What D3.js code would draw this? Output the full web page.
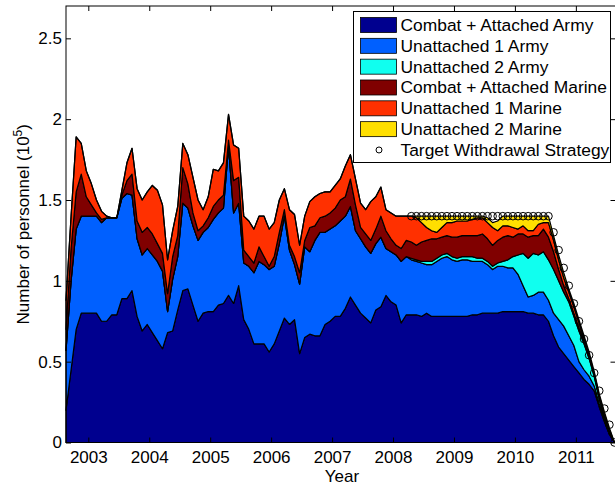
<!DOCTYPE html>
<html><head><meta charset="utf-8">
<script src="https://cdn.jsdelivr.net/npm/d3@7/dist/d3.min.js"></script>
<style>
body{margin:0;background:#fff}
svg{display:block}
text{font-family:"Liberation Sans",Arial,Helvetica,sans-serif;fill:#000}
</style>
</head><body>
<svg id="chart" width="615" height="486"></svg>
<script>
// ---- data (units of 10^5 personnel), monthly points ----
const seriesNames = ["Combat + Attached Army","Unattached 1 Army","Unattached 2 Army",
  "Combat + Attached Marine","Unattached 1 Marine","Unattached 2 Marine"];
const seriesColors = ["#00008F","#0060FF","#10FFEF","#800000","#FF3000","#FFDF00"];
const targetName = "Target Withdrawal Strategy";
const startYear = 2002.634;   // time of first monthly sample
const monthsCount = 109;

const combatArmy = [
 .20,.45,.70,.80,.80,.80,.80,.75,.75,.79,
 .79,.89,.89,.94,.78,.69,.73,.68,.63,.58,
 .68,.69,.82,.94,.95,.85,.75,.80,.81,.81,
 .85,.86,.91,.86,.97,.76,.70,.61,.61,.61,
 .56,.61,.69,.77,.73,.76,.55,.65,.67,.66,
 .66,.73,.75,.78,.78,.83,.90,.85,.80,.77,
 .74,.82,.84,.91,.87,.85,.74,.79,.79,.79,
 .78,.80,.78,.78,.78,.78,.78,.78,.78,.78,
 .79,.79,.80,.80,.80,.80,.81,.81,.81,.81,
 .81,.80,.80,.79,.79,.75,.66,.59,.55,.51,
 .47,.43,.39,.36,.32,.22,.13,.05,0];
const unattached1Army = [
 .37,.55,.62,.60,.60,.60,.60,.61,.64,.60,
 .60,.62,.65,.59,.48,.47,.47,.48,.49,.48,
 .13,.32,.33,.54,.50,.49,.50,.50,.52,.57,
 .57,.59,.92,.56,.51,.35,.39,.44,.51,.49,
 .51,.48,.54,.63,.46,.34,.43,.56,.51,.59,
 .64,.57,.57,.56,.59,.57,.56,.46,.46,.44,
 .43,.41,.43,.29,.31,.31,.38,.36,.34,.33,
 .33,.30,.32,.34,.36,.37,.35,.34,.35,.35,
 .33,.33,.32,.30,.27,.29,.28,.27,.27,.23,
 .16,.10,.11,.14,.14,.13,.14,.17,.17,.15,
 .13,.07,.06,.05,.03,.02,.01,0,0];
const unattached2Army = [
 0,0,0,0,0,0,0,0,0,0,
 0,0,0,0,0,0,0,0,0,0,
 0,0,0,0,0,0,0,0,0,0,
 0,0,0,0,0,0,0,0,0,0,
 0,0,0,0,0,0,0,0,0,0,
 0,0,0,0,0,0,0,0,0,0,
 0,0,0,0,0,0,0,0,.01,.01,
 .01,.02,.02,.02,.02,.02,.02,.02,.02,.02,
 .03,.02,.02,.02,.02,.02,.03,.05,.07,.12,
 .20,.24,.26,.23,.25,.25,.27,.24,.21,.21,
 .18,.19,.16,.11,.06,.03,.02,.01,0];
const combatMarine = [
 .13,.20,.23,.26,.12,.07,.02,.02,0,0,
 0,.02,.08,.13,.11,.14,.13,.13,.11,.11,
 .11,.14,.13,.22,.15,.08,.06,.04,.06,.08,
 .08,.08,.04,.20,.16,.08,.06,.06,.09,.05,
 .02,.06,.07,.04,.03,.05,.07,.04,.15,.09,
 .09,.10,.10,.11,.13,.12,.17,.16,.07,.08,
 .08,.09,.13,.11,.08,.06,.08,.10,.10,.09,
 .12,.13,.14,.12,.11,.11,.12,.13,.13,.13,
 .13,.14,.15,.14,.13,.14,.15,.15,.12,.13,
 .12,.13,.11,.12,.14,.14,.11,.07,.04,.02,
 .02,.02,.01,.01,.01,.01,.01,.01,0];
const unattached1Marine = [
 .18,.20,.34,.19,.16,.13,.08,.05,.01,0,
 0,.03,.11,.16,.20,.20,.22,.30,.33,.30,
 .21,.16,.18,.15,.18,.22,.19,.10,.13,.23,
 .18,.20,.16,.22,.18,.21,.22,.21,.19,.25,
 .23,.21,.20,.13,.22,.26,.17,.15,.16,.18,
 .15,.15,.13,.14,.13,.19,.15,.16,.15,.15,
 .24,.20,.18,.13,.16,.18,.20,.15,.16,.17,
 .12,.08,.05,.04,.06,.08,.09,.10,.09,.09,
 .10,.11,.10,.10,.11,.06,.07,.06,.06,.03,
 .05,.04,.03,.07,.04,.09,.07,.06,.05,.04,
 .04,.03,.02,.01,.01,.01,.01,.01,0];
const unattached2Marine = [
 0,0,0,0,0,0,0,0,0,0,
 0,0,0,0,0,0,0,0,0,0,
 0,0,0,0,0,0,0,0,0,0,
 0,0,0,0,0,0,0,0,0,0,
 0,0,0,0,0,0,0,0,0,0,
 0,0,0,0,0,0,0,0,0,0,
 0,0,0,0,0,0,0,0,0,.01,
 .04,.07,.09,.10,.07,.04,.04,.03,.03,.03,
 .02,.01,.01,.03,.03,.06,.06,.06,.07,.08,
 .06,.09,.09,.05,.04,.04,.03,.03,.03,.02,
 .02,.02,.02,.02,.01,.01,.01,.01,0];
const targetStart = 68;  // first month index of the target strategy markers
const targetValues = [
 1.4,1.4,1.4,1.4,1.4,1.4,1.4,1.4,1.4,1.4,
 1.4,1.4,1.4,1.4,1.4,1.4,1.4,1.4,1.4,1.4,
 1.4,1.4,1.4,1.4,1.4,1.4,1.4,1.4,
 1.30,1.19,1.08,0.97,0.86,0.75,0.64,0.54,0.43,0.32,0.21,0.11,0.00];
const yTickValues = [0,0.5,1,1.5,2,2.5];
const yearTicks = [2003,2004,2005,2006,2007,2008,2009,2010,2011];

// ---- layout ----
const svg = d3.select("#chart");
const L = 66, T = 6, R = 615.5, B = 442.5;
const x = d3.scaleLinear().domain([startYear, startYear + (monthsCount-1)/12]).range([L, 614.5]);
const y = d3.scaleLinear().domain([0, 2.7]).range([B, T]);

const seriesArrays = [combatArmy, unattached1Army, unattached2Army, combatMarine, unattached1Marine, unattached2Marine];
const keys = seriesNames;
const rows = d3.range(monthsCount).map(i => {
  const r = {t: startYear + i/12};
  keys.forEach((k, j) => r[k] = seriesArrays[j][i]);
  return r;
});
const stacked = d3.stack().keys(keys)(rows);

const area = d3.area()
  .x(d => x(d.data.t))
  .y0(d => y(d[0]))
  .y1(d => y(d[1]));

const plot = svg.append("g");
plot.selectAll("path.layer").data(stacked).join("path")
  .attr("class","layer")
  .attr("d", area)
  .attr("fill", (d,i) => seriesColors[i])
  .attr("stroke", "#000")
  .attr("stroke-width", 1.2)
  .attr("stroke-linejoin","round");

// target markers
const targetPts = targetValues.map((v,k) => ({t: startYear + (targetStart+k)/12, v}));
plot.selectAll("circle.tgt").data(targetPts).join("circle")
  .attr("class","tgt")
  .attr("cx", d => x(d.t)).attr("cy", d => y(d.v)).attr("r", 3.8)
  .attr("fill","none").attr("stroke","#000").attr("stroke-width",1);

// ---- axes ----
const tickLen = 5;
const gB = svg.append("g").attr("transform",`translate(0,${B})`)
  .call(d3.axisBottom(x).tickValues(yearTicks).tickFormat(d3.format("d")).tickSize(-tickLen).tickPadding(8));
const gT = svg.append("g").attr("transform",`translate(0,${T})`)
  .call(d3.axisTop(x).tickValues(yearTicks).tickFormat("").tickSize(-tickLen));
const gL = svg.append("g").attr("transform",`translate(${L},0)`)
  .call(d3.axisLeft(y).tickValues(yTickValues).tickFormat(d => String(d)).tickSize(-tickLen).tickPadding(4));
const gR = svg.append("g").attr("transform",`translate(${R},0)`)
  .call(d3.axisRight(y).tickValues(yTickValues).tickFormat("").tickSize(-tickLen));
[gB,gT,gL,gR].forEach(g => {
  g.select(".domain").remove();
  g.selectAll(".tick line").attr("stroke","#000").attr("stroke-width",1);
  g.selectAll("text").attr("font-size",17).attr("fill","#000")
   .style("font-family",'"Liberation Sans",Arial,Helvetica,sans-serif');
});

svg.append("rect").attr("x",L).attr("y",T).attr("width",R-L).attr("height",B-T)
  .attr("fill","none").attr("stroke","#000").attr("stroke-width",1);

// axis titles
svg.append("text").attr("x",(L+614)/2 + 2).attr("y",482).attr("text-anchor","middle")
  .attr("font-size",17).text("Year");
const yl = svg.append("text").attr("transform",`translate(29,${(T+B)/2}) rotate(-90)`)
  .attr("text-anchor","middle").attr("font-size",17);
yl.append("tspan").text("Number of personnel (10");
yl.append("tspan").attr("font-size",12).attr("dy",-7).text("5");
yl.append("tspan").attr("dy",7).text(")");

// ---- legend ----
const lg = svg.append("g");
lg.append("rect").attr("x",353.5).attr("y",11.5).attr("width",257).attr("height",151)
  .attr("fill","#fff").attr("stroke","#000").attr("stroke-width",1);
const rowY = i => 25 + i*20.83;
seriesNames.forEach((name,i) => {
  lg.append("rect").attr("x",360.5).attr("y",rowY(i)-7.5).attr("width",36).attr("height",15)
    .attr("fill",seriesColors[i]).attr("stroke","#000").attr("stroke-width",0.8);
  lg.append("text").attr("x",400.5).attr("y",rowY(i)+6).attr("font-size",17.4).text(name);
});
lg.append("circle").attr("cx",379).attr("cy",rowY(6)).attr("r",3)
  .attr("fill","none").attr("stroke","#000").attr("stroke-width",1);
lg.append("text").attr("x",400.5).attr("y",rowY(6)+6).attr("font-size",17.4).text(targetName);
</script>
</body></html>
